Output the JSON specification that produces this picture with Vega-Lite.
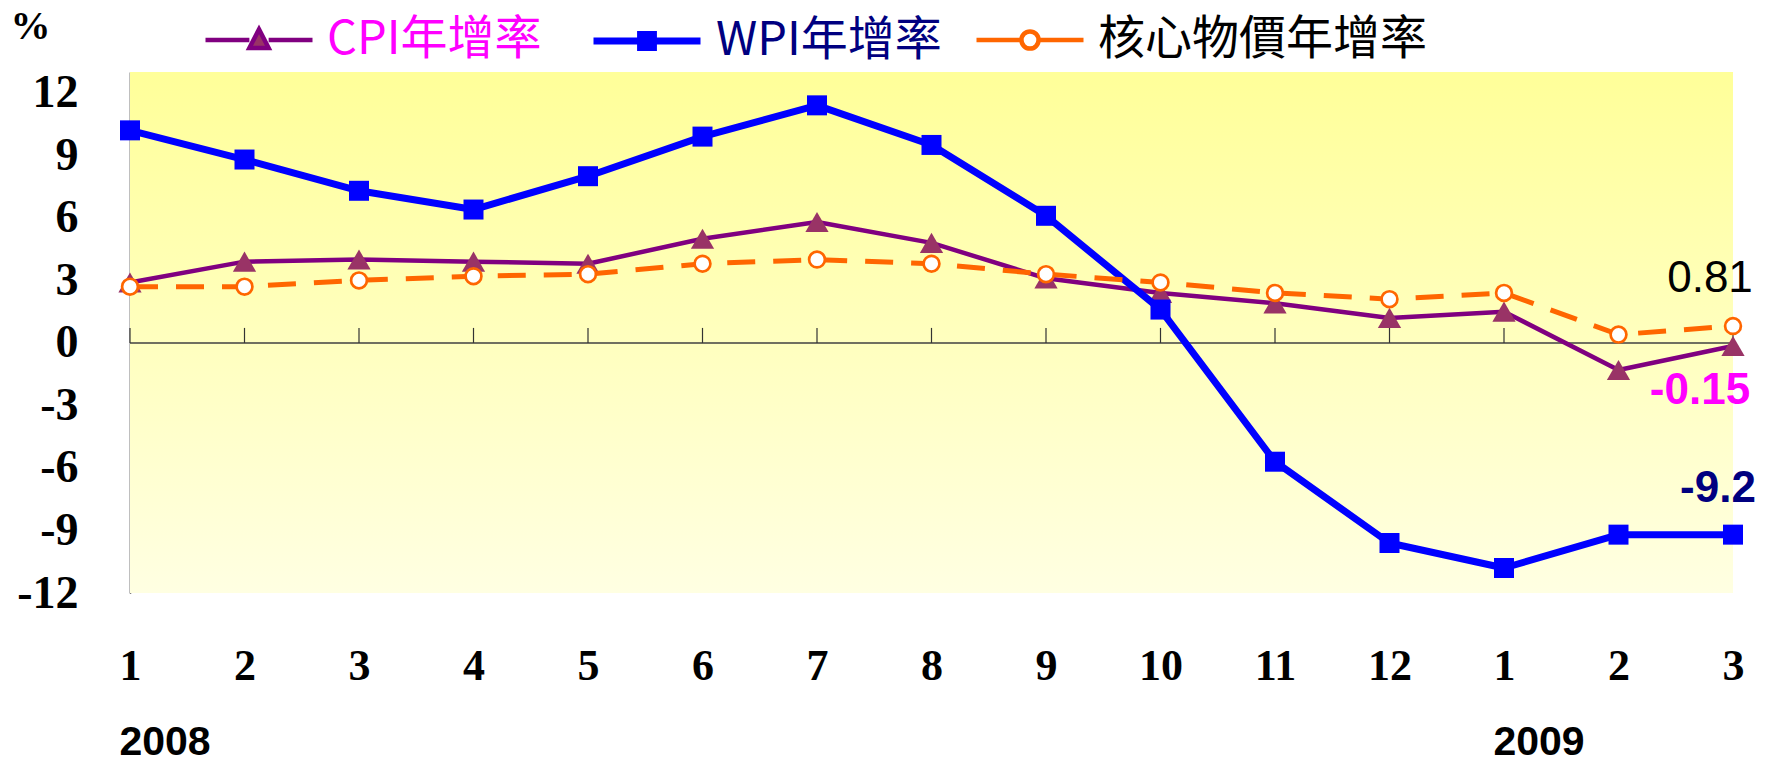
{
  "$schema": "https://vega.github.io/schema/vega-lite/v6.json",
  "width": 1603,
  "height": 521,
  "autosize": {"type": "none"},
  "padding": {"left": 130, "top": 72, "right": 39, "bottom": 170},
  "background": "white",
  "config": {"view": {"stroke": null}},
  "resolve": {"scale": {"color": "independent"}, "legend": {"color": "independent"}},
  "data": {"values": [
    {"idx": 0, "series": "CPI年增率", "value": 2.9},
    {"idx": 1, "series": "CPI年增率", "value": 3.9},
    {"idx": 2, "series": "CPI年增率", "value": 4.0},
    {"idx": 3, "series": "CPI年增率", "value": 3.9},
    {"idx": 4, "series": "CPI年增率", "value": 3.8},
    {"idx": 5, "series": "CPI年增率", "value": 5.0},
    {"idx": 6, "series": "CPI年增率", "value": 5.8},
    {"idx": 7, "series": "CPI年增率", "value": 4.8},
    {"idx": 8, "series": "CPI年增率", "value": 3.1},
    {"idx": 9, "series": "CPI年增率", "value": 2.4},
    {"idx": 10, "series": "CPI年增率", "value": 1.9},
    {"idx": 11, "series": "CPI年增率", "value": 1.2},
    {"idx": 12, "series": "CPI年增率", "value": 1.5},
    {"idx": 13, "series": "CPI年增率", "value": -1.3},
    {"idx": 14, "series": "CPI年增率", "value": -0.15},
    {"idx": 0, "series": "WPI年增率", "value": 10.2},
    {"idx": 1, "series": "WPI年增率", "value": 8.8},
    {"idx": 2, "series": "WPI年增率", "value": 7.3},
    {"idx": 3, "series": "WPI年增率", "value": 6.4},
    {"idx": 4, "series": "WPI年增率", "value": 8.0},
    {"idx": 5, "series": "WPI年增率", "value": 9.9},
    {"idx": 6, "series": "WPI年增率", "value": 11.4},
    {"idx": 7, "series": "WPI年增率", "value": 9.5},
    {"idx": 8, "series": "WPI年增率", "value": 6.1},
    {"idx": 9, "series": "WPI年增率", "value": 1.6},
    {"idx": 10, "series": "WPI年增率", "value": -5.7},
    {"idx": 11, "series": "WPI年增率", "value": -9.6},
    {"idx": 12, "series": "WPI年增率", "value": -10.8},
    {"idx": 13, "series": "WPI年增率", "value": -9.2},
    {"idx": 14, "series": "WPI年增率", "value": -9.2},
    {"idx": 0, "series": "核心物價年增率", "value": 2.7},
    {"idx": 1, "series": "核心物價年增率", "value": 2.7},
    {"idx": 2, "series": "核心物價年增率", "value": 3.0},
    {"idx": 3, "series": "核心物價年增率", "value": 3.2},
    {"idx": 4, "series": "核心物價年增率", "value": 3.3},
    {"idx": 5, "series": "核心物價年增率", "value": 3.8},
    {"idx": 6, "series": "核心物價年增率", "value": 4.0},
    {"idx": 7, "series": "核心物價年增率", "value": 3.8},
    {"idx": 8, "series": "核心物價年增率", "value": 3.3},
    {"idx": 9, "series": "核心物價年增率", "value": 2.9},
    {"idx": 10, "series": "核心物價年增率", "value": 2.4},
    {"idx": 11, "series": "核心物價年增率", "value": 2.1},
    {"idx": 12, "series": "核心物價年增率", "value": 2.4},
    {"idx": 13, "series": "核心物價年增率", "value": 0.4},
    {"idx": 14, "series": "核心物價年增率", "value": 0.81}
  ]},
  "layer": [
    {
      "data": {"values": [{}]},
      "mark": {"type": "rect", "fill": {"gradient": "linear", "x1": 0, "y1": 0, "x2": 0, "y2": 1, "stops": [{"offset": 0, "color": "#FFFF99"}, {"offset": 1, "color": "#FFFFE2"}]}},
      "encoding": {
        "x": {"datum": 0, "type": "quantitative", "scale": {"domain": [0, 14], "nice": false, "zero": false}},
        "x2": {"datum": 14},
        "y": {"datum": 13, "type": "quantitative", "scale": {"domain": [-12, 13], "nice": false, "zero": false}},
        "y2": {"datum": -12}
      }
    },
    {
      "data": {"values": [{}]},
      "mark": {"type": "rule", "color": "#404040", "strokeWidth": 1.5},
      "encoding": {
        "y": {"datum": 0, "type": "quantitative", "scale": {"domain": [-12, 13], "nice": false, "zero": false}}
      }
    },
    {
      "transform": [{"filter": "datum.series === 'CPI年增率'"}],
      "mark": {"type": "rule", "color": "#333333", "strokeWidth": 1.2},
      "encoding": {
        "x": {"field": "idx", "type": "quantitative", "scale": {"domain": [0, 14], "nice": false, "zero": false}},
        "y": {"datum": 0, "type": "quantitative", "scale": {"domain": [-12, 13], "nice": false, "zero": false}},
        "y2": {"datum": 0.72}
      }
    },
    {
      "transform": [{"filter": "datum.series === 'CPI年增率'"}],
      "mark": {"type": "line", "strokeWidth": 4.5, "strokeJoin": "round"},
      "encoding": {
        "x": {"field": "idx", "type": "quantitative", "scale": {"domain": [0, 14], "nice": false, "zero": false},
          "axis": {"title": null, "values": [0,1,2,3,4,5,6,7,8,9,10,11,12,13,14], "labelExpr": "(datum.value < 12 ? datum.value + 1 : datum.value - 11) + ''", "domain": false, "ticks": false, "grid": false, "labelFlush": false, "labelOverlap": false, "labelPadding": 51, "labelFont": "Liberation Serif", "labelFontSize": 44, "labelFontWeight": "bold", "labelColor": "#000000", "labelBaseline": "top"}},
        "y": {"field": "value", "type": "quantitative", "scale": {"domain": [-12, 13], "nice": false, "zero": false},
          "axis": {"title": "%", "titleAngle": 0, "titleX": -100, "titleY": -46, "titleAlign": "center", "titleBaseline": "middle", "titleFont": "Liberation Serif", "titleFontSize": 40, "titleFontWeight": "bold", "titleColor": "#000000",
            "values": [-12,-9,-6,-3,0,3,6,9,12], "labelExpr": "datum.value + ''", "ticks": false, "grid": false, "domain": true, "domainColor": "#000000", "domainWidth": 1.5, "labelPadding": 52, "labelFont": "Liberation Serif", "labelFontSize": 46, "labelFontWeight": "bold", "labelColor": "#000000", "labelOverlap": false, "labelFlush": false}},
        "color": {"field": "series", "type": "nominal",
          "scale": {"domain": ["CPI年增率"], "range": ["#800080"]},
          "legend": {
            "orient": "none", "legendX": 73, "legendY": -88, "title": null, "padding": 0,
            "symbolType": "M-1,0H-0.18M0.18,0H1M0,-0.2L0.18,0.15L-0.18,0.15Z",
            "symbolSize": 11449, "symbolStrokeWidth": 4.5, "symbolFillColor": "#993366", "symbolOpacity": 1,
            "labelOffset": 12, "labelFont": "Noto Sans CJK TC", "labelFontSize": 47, "labelColor": "#FF00FF", "labelLimit": 600
          }}
      }
    },
    {
      "transform": [{"filter": "datum.series === 'CPI年增率'"}],
      "mark": {"type": "point", "shape": "triangle-up", "filled": true, "fill": "#993366", "opacity": 1, "size": 540},
      "encoding": {
        "x": {"field": "idx", "type": "quantitative", "scale": {"domain": [0, 14], "nice": false, "zero": false}},
        "y": {"field": "value", "type": "quantitative", "scale": {"domain": [-12, 13], "nice": false, "zero": false}}
      }
    },
    {
      "transform": [{"filter": "datum.series === 'WPI年增率'"}],
      "mark": {"type": "line", "strokeWidth": 7, "strokeJoin": "round"},
      "encoding": {
        "x": {"field": "idx", "type": "quantitative", "scale": {"domain": [0, 14], "nice": false, "zero": false}},
        "y": {"field": "value", "type": "quantitative", "scale": {"domain": [-12, 13], "nice": false, "zero": false}},
        "color": {"field": "series", "type": "nominal",
          "scale": {"domain": ["WPI年增率"], "range": ["#0000FF"]},
          "legend": {
            "orient": "none", "legendX": 460, "legendY": -88, "title": null, "padding": 0,
            "symbolType": "M-1,0H1M-0.12,-0.12H0.12V0.12H-0.12Z",
            "symbolSize": 11449, "symbolStrokeWidth": 7, "symbolFillColor": "#0000FF", "symbolOpacity": 1,
            "labelOffset": 12, "labelFont": "Noto Sans CJK TC", "labelFontSize": 47, "labelColor": "#000080", "labelLimit": 600
          }}
      }
    },
    {
      "transform": [{"filter": "datum.series === 'WPI年增率'"}],
      "mark": {"type": "point", "shape": "square", "filled": true, "fill": "#0000FF", "opacity": 1, "size": 400},
      "encoding": {
        "x": {"field": "idx", "type": "quantitative", "scale": {"domain": [0, 14], "nice": false, "zero": false}},
        "y": {"field": "value", "type": "quantitative", "scale": {"domain": [-12, 13], "nice": false, "zero": false}}
      }
    },
    {
      "transform": [{"filter": "datum.series === '核心物價年增率'"}],
      "mark": {"type": "line", "strokeWidth": 5, "strokeDash": [28, 18]},
      "encoding": {
        "x": {"field": "idx", "type": "quantitative", "scale": {"domain": [0, 14], "nice": false, "zero": false}},
        "y": {"field": "value", "type": "quantitative", "scale": {"domain": [-12, 13], "nice": false, "zero": false}},
        "color": {"field": "series", "type": "nominal",
          "scale": {"domain": ["核心物價年增率"], "range": ["#FF6600"]},
          "legend": {
            "orient": "none", "legendX": 844, "legendY": -88, "title": null, "padding": 0,
            "symbolType": "M-1,0H-0.16M0.16,0H1M0.16,0A0.16,0.16 0 1,1 -0.16,0A0.16,0.16 0 1,1 0.16,0Z",
            "symbolSize": 11449, "symbolStrokeWidth": 4.5, "symbolFillColor": "#FFFFFF", "symbolOpacity": 1,
            "labelOffset": 12, "labelFont": "Noto Sans CJK TC", "labelFontSize": 47, "labelColor": "#000000", "labelLimit": 600
          }}
      }
    },
    {
      "transform": [{"filter": "datum.series === '核心物價年增率'"}],
      "mark": {"type": "point", "shape": "circle", "filled": true, "fill": "#FFFFFF", "stroke": "#FF6600", "strokeWidth": 2.7, "opacity": 1, "size": 250},
      "encoding": {
        "x": {"field": "idx", "type": "quantitative", "scale": {"domain": [0, 14], "nice": false, "zero": false}},
        "y": {"field": "value", "type": "quantitative", "scale": {"domain": [-12, 13], "nice": false, "zero": false}}
      }
    },
    {
      "transform": [{"filter": "datum.series === '核心物價年增率' && datum.idx === 14"}],
      "mark": {"type": "text", "font": "Liberation Sans", "fontSize": 44, "color": "#000000", "align": "center", "baseline": "middle", "dx": -23, "dy": -47},
      "encoding": {
        "x": {"field": "idx", "type": "quantitative", "scale": {"domain": [0, 14], "nice": false, "zero": false}},
        "y": {"field": "value", "type": "quantitative", "scale": {"domain": [-12, 13], "nice": false, "zero": false}},
        "text": {"field": "value", "type": "nominal"}
      }
    },
    {
      "transform": [{"filter": "datum.series === 'CPI年增率' && datum.idx === 14"}],
      "mark": {"type": "text", "font": "Liberation Sans", "fontSize": 44, "fontWeight": "bold", "color": "#FF00FF", "align": "center", "baseline": "middle", "dx": -33, "dy": 45},
      "encoding": {
        "x": {"field": "idx", "type": "quantitative", "scale": {"domain": [0, 14], "nice": false, "zero": false}},
        "y": {"field": "value", "type": "quantitative", "scale": {"domain": [-12, 13], "nice": false, "zero": false}},
        "text": {"field": "value", "type": "nominal"}
      }
    },
    {
      "transform": [{"filter": "datum.series === 'WPI年增率' && datum.idx === 14"}],
      "mark": {"type": "text", "font": "Liberation Sans", "fontSize": 44, "fontWeight": "bold", "color": "#000080", "align": "center", "baseline": "middle", "dx": -15, "dy": -46},
      "encoding": {
        "x": {"field": "idx", "type": "quantitative", "scale": {"domain": [0, 14], "nice": false, "zero": false}},
        "y": {"field": "value", "type": "quantitative", "scale": {"domain": [-12, 13], "nice": false, "zero": false}},
        "text": {"field": "value", "type": "nominal"}
      }
    },
    {
      "data": {"values": [{"idx": 0, "year": "2008"}, {"idx": 12, "year": "2009"}]},
      "mark": {"type": "text", "font": "Liberation Sans", "fontSize": 41, "fontWeight": "bold", "color": "#000000", "align": "center", "baseline": "middle", "dx": 35},
      "encoding": {
        "x": {"field": "idx", "type": "quantitative", "scale": {"domain": [0, 14], "nice": false, "zero": false}},
        "y": {"datum": -19.2, "type": "quantitative", "scale": {"domain": [-12, 13], "nice": false, "zero": false}},
        "text": {"field": "year", "type": "nominal"}
      }
    }
  ]
}
